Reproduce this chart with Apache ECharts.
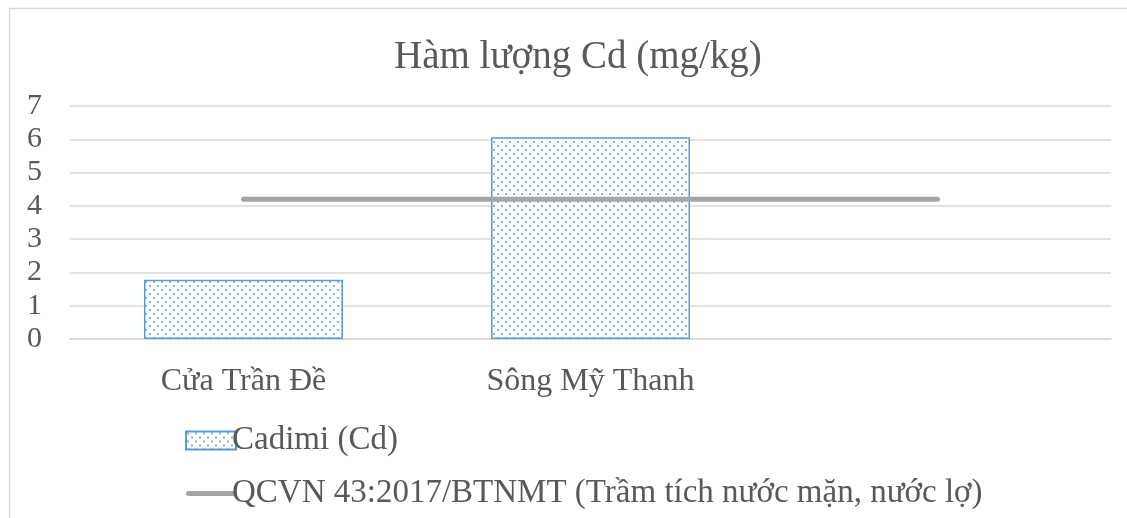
<!DOCTYPE html>
<html>
<head>
<meta charset="utf-8">
<script src="https://cdn.jsdelivr.net/npm/echarts@6/dist/echarts.min.js"></script>
<style>
html, body { margin: 0; padding: 0; background: #fff; }
#chart { width: 1127px; height: 518px; }
</style>
</head>
<body>
<div id="chart"></div>
<script>
// du lieu
var categories = ['Cửa Trần Đề', 'Sông Mỹ Thanh', ''];
var cadimi = [1.78, 6.06, null];
var qcvn = [4.2, 4.2, 4.2];
var yTicks = [0, 1, 2, 3, 4, 5, 6, 7];

var font = '"Liberation Serif", "Times New Roman", serif';
var textColor = '#595959';

// hoa van cham cho cot
function dotPattern() {
	var c = document.createElement('canvas');
	c.width = 8;
	c.height = 8;
	var ctx = c.getContext('2d');
	ctx.fillStyle = '#ffffff';
	ctx.fillRect(0, 0, 8, 8);
	ctx.fillStyle = 'rgba(91,155,213,0.75)';
	ctx.fillRect(1, 1, 2, 2);
	ctx.fillRect(5, 5, 2, 2);
	return c;
}

// bieu tuong duong ke day cho chu giai
var lineIcon = 'path://M0,2.5 A2.5,2.5 0 0 1 2.5,0 L47.5,0 A2.5,2.5 0 0 1 47.5,5 L2.5,5 A2.5,2.5 0 0 1 0,2.5 Z';

var chart = echarts.init(document.getElementById('chart'));
chart.setOption({
	backgroundColor: '#ffffff',
	animation: false,
	textStyle: { fontFamily: font },
	title: {
		text: 'Hàm lượng Cd (mg/kg)',
		left: 389,
		top: 33,
		textStyle: { fontFamily: font, fontSize: 39, fontWeight: 'normal', color: textColor }
	},
	graphic: [{
		type: 'rect',
		shape: { x: 9.5, y: 8.5, width: 1140, height: 540 },
		style: { fill: 'none', stroke: '#d9d9d9', lineWidth: 1.5 },
		silent: true
	}],
	legend: {
		orient: 'vertical',
		left: 180,
		top: 419,
		itemWidth: 50,
		itemHeight: 18,
		itemGap: 20,
		textStyle: { fontFamily: font, fontSize: 33, color: textColor, padding: [0, 0, 0, -9] },
		data: [
			{ name: 'Cadimi (Cd)', icon: 'rect' },
			{
				name: 'QCVN 43:2017/BTNMT (Trầm tích nước mặn, nước lợ)',
				icon: lineIcon,
				itemStyle: { color: '#a5a5a5' }
			}
		]
	},
	grid: { left: 70, right: 16, top: 106, bottom: 179 },
	xAxis: {
		type: 'category',
		data: categories,
		axisLine: { lineStyle: { color: '#d9d9d9', width: 1.5 } },
		axisTick: { show: false },
		axisLabel: { fontFamily: font, fontSize: 32, color: textColor, margin: 27 }
	},
	yAxis: {
		type: 'value',
		min: yTicks[0],
		max: yTicks[yTicks.length - 1],
		interval: 1,
		axisLine: { show: false },
		axisTick: { show: false },
		splitLine: { lineStyle: { color: '#d9d9d9', width: 1.5 } },
		axisLabel: { fontFamily: font, fontSize: 30, color: textColor, margin: 28 }
	},
	series: [{
		name: 'Cadimi (Cd)',
		type: 'bar',
		barWidth: 199,
		data: cadimi,
		itemStyle: {
			color: { image: dotPattern(), repeat: 'repeat' },
			borderColor: '#5b9bd5',
			borderWidth: 1.5
		}
	}, {
		name: 'QCVN 43:2017/BTNMT (Trầm tích nước mặn, nước lợ)',
		type: 'line',
		data: qcvn,
		symbol: 'none',
		itemStyle: { color: '#a5a5a5' },
		lineStyle: { color: '#a5a5a5', width: 5, cap: 'round' }
	}]
});
</script>
</body>
</html>
